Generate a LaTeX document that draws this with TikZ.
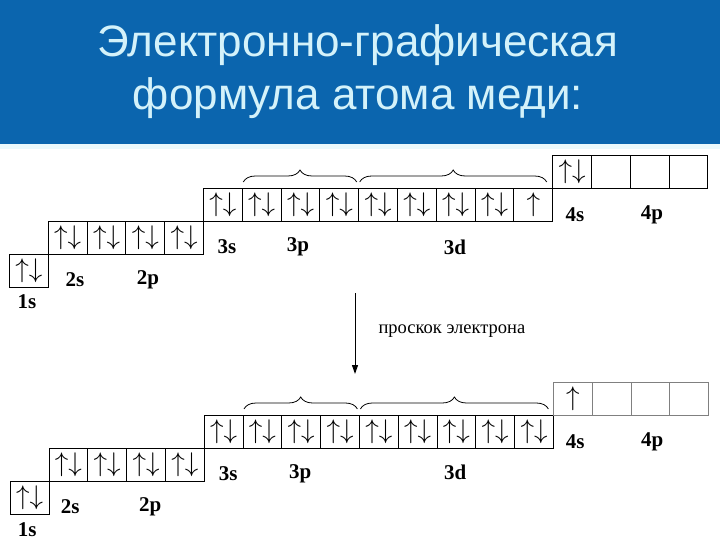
\RequirePackage{fix-cm}
\documentclass[tikz,border=0pt]{standalone}
\usepackage{fontspec}
\setmainfont{Liberation Serif}
\newfontfamily\titlefont{Liberation Sans}
\usetikzlibrary{positioning,decorations.pathreplacing,arrows.meta}
\definecolor{bannerblue}{RGB}{11,101,174}
\definecolor{titlecyan}{RGB}{212,242,250}
\newcommand{\spinpair}{$\uparrow\downarrow$}
\newcommand{\spinup}{$\uparrow$}

\begin{document}
\begin{tikzpicture}[
x=1pt, y=-1pt,
cell/.style={rectangle, draw, line width=0.9pt, minimum width=38.8pt, minimum height=33pt, inner sep=0pt, outer sep=0pt, font=\fontsize{27}{27}\selectfont},
pale/.style={draw=black!50},
lbl/.style={font=\fontsize{21}{21}\selectfont\bfseries},
brace/.style={decorate, decoration={brace, amplitude=12pt}, line width=0.8pt}
]
\useasboundingbox (0,0) rectangle (720,540);
\fill[bannerblue] (0,0) rectangle (720,144);
\fill[titlecyan!50] (0,144) rectangle (720,149);
\node[text=titlecyan, align=center, font=\titlefont\fontsize{44}{53}\selectfont] (title) at (358,72) {Электронно-графическая\\формула атома меди:};

\node[cell] (t1s) at (28.9,270.5) {\spinpair};
\node[cell, anchor=south west] (t2s) at (t1s.north east) {\spinpair};
\foreach \i/\prev in {1/t2s,2/t2p1,3/t2p2}
  \node[cell, right=0pt of \prev] (t2p\i) {\spinpair};
\node[cell, anchor=south west] (t3s) at (t2p3.north east) {\spinpair};
\foreach \i/\prev in {1/t3s,2/t3p1,3/t3p2}
  \node[cell, right=0pt of \prev] (t3p\i) {\spinpair};
\foreach \i/\prev in {1/t3p3,2/t3d1,3/t3d2,4/t3d3}
  \node[cell, right=0pt of \prev] (t3d\i) {\spinpair};
\node[cell, right=0pt of t3d4] (t3d5) {\spinup};
\node[cell, anchor=south west] (t4s) at (t3d5.north east) {\spinpair};
\foreach \i/\prev in {1/t4s,2/t4p1,3/t4p2}
  \node[cell, right=0pt of \prev] (t4p\i) {};

\node[lbl] (t1slbl) at (27,302) {1s};
\node[lbl] (t2slbl) at (75,280) {2s};
\node[lbl] (t2plbl) at (148,280) {2p};
\node[lbl] (t3slbl) at (227,247) {3s};
\node[lbl] (t3plbl) at (298,247) {3p};
\node[lbl] (t3dlbl) at (455,247) {3d};
\node[lbl] (t4slbl) at (575,215) {4s};
\node[lbl] (t4plbl) at (652,215) {4p};

\path (t3p1.north west) ++(1,-6) coordinate (tb1) (t3p3.north east) ++(-2,-6) coordinate (tb2);
\draw[brace] (tb1) -- (tb2);
\path (t3d1.north west) ++(1,-6) coordinate (tb3) (t3d5.north east) ++(-6,-6) coordinate (tb4);
\draw[brace] (tb3) -- (tb4);

\coordinate (jumpstart) at (355,293);
\coordinate (jumpend) at (355,374);
\draw[line width=1pt, -{Triangle[length=9pt, width=6pt]}] (jumpstart) -- (jumpend);
\node[anchor=west, font=\fontsize{18.5}{18.5}\selectfont] (jumplbl) at (375,331) {проскок электрона};

\begin{scope}[shift={(0.7,227)}]
\node[cell] (b1s) at (28.9,270.5) {\spinpair};
\node[cell, anchor=south west] (b2s) at (b1s.north east) {\spinpair};
\foreach \i/\prev in {1/b2s,2/b2p1,3/b2p2}
  \node[cell, right=0pt of \prev] (b2p\i) {\spinpair};
\node[cell, anchor=south west] (b3s) at (b2p3.north east) {\spinpair};
\foreach \i/\prev in {1/b3s,2/b3p1,3/b3p2}
  \node[cell, right=0pt of \prev] (b3p\i) {\spinpair};
\foreach \i/\prev in {1/b3p3,2/b3d1,3/b3d2,4/b3d3,5/b3d4}
  \node[cell, right=0pt of \prev] (b3d\i) {\spinpair};
\node[cell, pale, anchor=south west] (b4s) at (b3d5.north east) {\spinup};
\foreach \i/\prev in {1/b4s,2/b4p1,3/b4p2}
  \node[cell, pale, right=0pt of \prev] (b4p\i) {};

\node[lbl] (b1slbl) at (26.5,303) {1s};
\node[lbl] (b2slbl) at (69.5,280) {2s};
\node[lbl] (b2plbl) at (149.5,280) {2p};
\node[lbl] (b3slbl) at (227.5,247) {3s};
\node[lbl] (b3plbl) at (299.5,247) {3p};
\node[lbl] (b3dlbl) at (454.5,245) {3d};
\node[lbl] (b4slbl) at (574.5,215) {4s};
\node[lbl] (b4plbl) at (651.5,215) {4p};

\path (b3p1.north west) ++(1,-6) coordinate (bb1) (b3p3.north east) ++(-2,-6) coordinate (bb2);
\draw[brace] (bb1) -- (bb2);
\path (b3d1.north west) ++(1,-6) coordinate (bb3) (b3d5.north east) ++(-5,-6) coordinate (bb4);
\draw[brace] (bb3) -- (bb4);
\end{scope}

\end{tikzpicture}
\end{document}
